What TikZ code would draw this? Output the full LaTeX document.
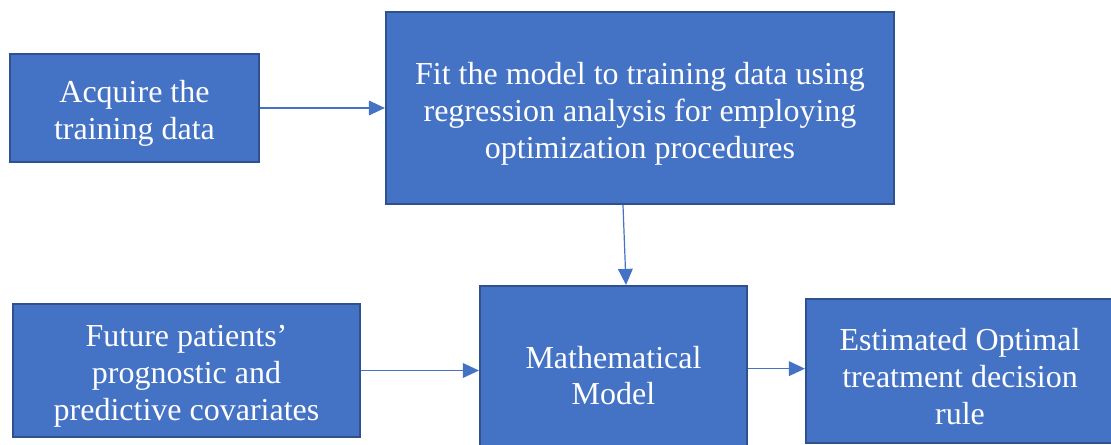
\documentclass[tikz,border=0pt]{standalone}
\usepackage{fontspec}
\setmainfont{Liberation Serif}
\usetikzlibrary{arrows.meta}
\definecolor{boxfill}{HTML}{4472C4}
\definecolor{boxline}{HTML}{2F528F}
% a taller first line moves each block of text a little lower in its box
\newcommand\firstline{\rule{0pt}{25pt}}
\tikzset{
  stage/.style={draw=boxline, line width=1.6pt, fill=boxfill, text=white,
    align=center, inner sep=0pt,
    font=\fontsize{24pt}{27.6pt}\selectfont},
  link/.style={draw=boxfill, line width=0.9pt,
    -{Triangle[length=12pt, width=11pt]}}
}
\begin{document}
\begin{tikzpicture}[x=0.75pt, y=-0.75pt]
  \clip (0,0) rectangle (1111,445);
  \fill[white] (0,0) rectangle (1111,445);

  \node[stage, minimum width=249*0.75pt, minimum height=108*0.75pt]
    (acquire) at (134.5,108) {\firstline Acquire the\\training data};
  \node[stage, minimum width=508*0.75pt, minimum height=192*0.75pt]
    (fit) at (640,108) {\firstline Fit the model to training data using\\regression analysis for employing\\optimization procedures};
  \node[stage, minimum width=347*0.75pt, minimum height=133*0.75pt]
    (future) at (186.5,370.5) {\firstline Future patients’\\prognostic and\\predictive covariates};
  \node[stage, minimum width=267*0.75pt, minimum height=168*0.75pt]
    (model) at (613.5,370) {\firstline Mathematical\\Model};
  \node[stage, minimum width=308*0.75pt, minimum height=144*0.75pt]
    (rule) at (960,371) {\firstline Estimated Optimal\\treatment decision\\rule};

  \draw[link] (acquire.east) -- (fit.west);
  \draw[link] ([xshift=-12.75pt]fit.south) -- ([xshift=9.4pt]model.north);
  \draw[link] (future.east) -- (future.east -| model.west);
  \draw[link] ([yshift=1pt]model.east) -- ([yshift=1pt]model.east -| rule.west);
\end{tikzpicture}
\end{document}
